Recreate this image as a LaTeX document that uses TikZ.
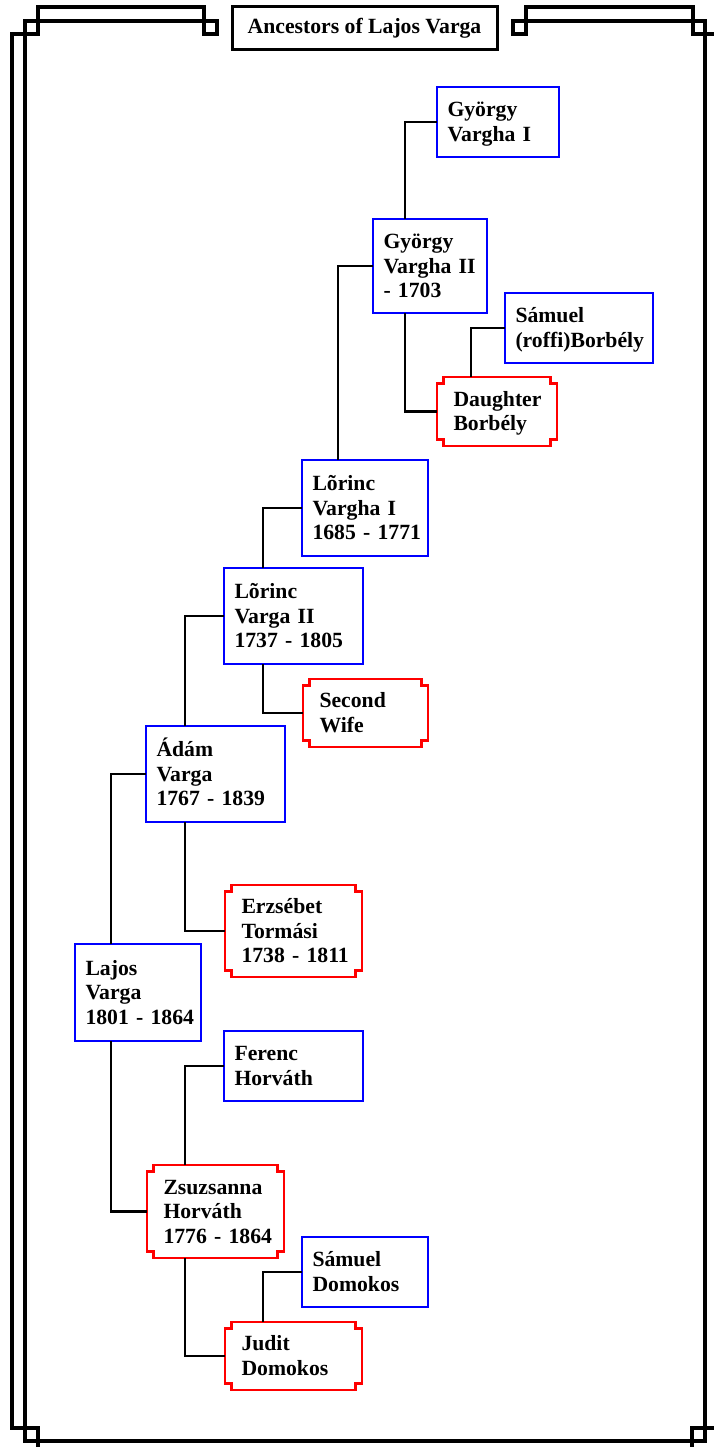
\documentclass[tikz,border=0pt]{standalone}
\usepackage{fontspec}
\setmainfont{Liberation Serif}
\newcommand\boxfont{\fontsize{21.7pt}{24.5pt}\selectfont\bfseries\exhyphenpenalty=10000 \hyphenpenalty=10000 }
\tikzset{
  person/.style={font=\boxfont, align=left, inner ysep=0pt,
    outer sep=0pt, text height=14.4pt, line width=2.5pt},
  male/.style={person, inner xsep=10.5pt, draw=blue},
  female/.style={person, inner xsep=16.5pt},
  l2/.style={text depth=24.5pt},
  l3/.style={text depth=49pt},
  link/.style={line width=2.3pt},
  notch/.style={draw=red, line width=2.5pt},
  frame/.style={line width=3.2pt},
}
\begin{document}
\begin{tikzpicture}[x=1pt,y=-1pt]
    \useasboundingbox (0,0) rectangle (714,1447);
    % double border with notched corners
    \draw[frame] (217,34) -- (204,34) -- (204,7) -- (38,7) -- (38,34) -- (12,34)
        -- (12,1428) -- (38,1428) -- (38,1455) -- (692,1455) -- (692,1428)
        -- (718,1428) -- (718,34) -- (693,34) -- (693,7) -- (526,7) -- (526,34)
        -- (513,34) -- (513,21) -- (705,21) -- (705,1441) -- (25,1441)
        -- (25,21) -- (217,21) -- cycle;
    \node[draw, line width=3pt, font=\boxfont, minimum width=265, minimum height=43,
        inner sep=0pt] (title) at (364.5,28.5) {Ancestors of Lajos Varga};
    % people
    \node[male, l2, text width=101pt, minimum height=70] (gy1) at (498,122) {György\\\mbox{Vargha I}};
    \node[male, l3, text width=93pt, minimum height=94] (gy2) at (430,266) {György\\\mbox{Vargha II}\\\mbox{- 1703}};
    \node[male, l2, text width=127pt, minimum height=70] (sbor) at (579,328) {Sámuel\\(roffi)Borbély};
    \node[female, l2, text width=87pt, minimum height=69] (dbor) at (497,411.5) {Daughter\\Borbély};
    \node[male, l3, text width=105pt, minimum height=96] (lor1) at (365,508) {Lõrinc\\\mbox{Vargha I}\\\mbox{1685 - 1771}};
    \node[male, l3, text width=118pt, minimum height=96] (lor2) at (293.5,616) {Lõrinc\\\mbox{Varga II}\\\mbox{1737 - 1805}};
    \node[female, l2, text width=92pt, minimum height=68] (swife) at (365.5,713) {Second\\Wife};
    \node[male, l3, text width=118pt, minimum height=96] (adam) at (215.5,774) {Ádám\\Varga\\\mbox{1767 - 1839}};
    \node[female, l3, text width=104pt, minimum height=92] (erzs) at (293.5,931) {Erzsébet\\Tormási\\\mbox{1738 - 1811}};
    \node[male, l3, text width=105pt, minimum height=97] (lajos) at (138,992.5) {Lajos\\Varga\\\mbox{1801 - 1864}};
    \node[male, l2, text width=118pt, minimum height=70] (ferenc) at (293.5,1066) {Ferenc\\Horváth};
    \node[female, l3, text width=104pt, minimum height=93] (zsuzs) at (215.5,1211.5) {Zsuzsanna\\Horváth\\\mbox{1776 - 1864}};
    \node[male, l2, text width=105pt, minimum height=70] (sdom) at (365,1272) {Sámuel\\Domokos};
    \node[female, l2, text width=104pt, minimum height=68] (judit) at (293.5,1356) {Judit\\Domokos};
    % notched outline of the women
    \foreach \n in {dbor,swife,erzs,zsuzs,judit}
        \draw[notch] ([yshift=-6.5pt]\n.north west) -- ([xshift=6.5pt,yshift=-6.5pt]\n.north west)
            -- ([xshift=6.5pt]\n.north west) -- ([xshift=-6.5pt]\n.north east)
            -- ([xshift=-6.5pt,yshift=-6.5pt]\n.north east) -- ([yshift=-6.5pt]\n.north east)
            -- ([yshift=6.5pt]\n.south east) -- ([xshift=-6.5pt,yshift=6.5pt]\n.south east)
            -- ([xshift=-6.5pt]\n.south east) -- ([xshift=6.5pt]\n.south west)
            -- ([xshift=6.5pt,yshift=6.5pt]\n.south west) -- ([yshift=6.5pt]\n.south west) -- cycle;
    % father above, mother below
    \draw[link] ([xshift=32pt]gy2.north west) |- (gy1.west);
    \draw[link] ([xshift=32pt]gy2.south west) |- (dbor.west);
    \draw[link] ([xshift=34pt]dbor.north west) |- (sbor.west);
    \draw[link] ([xshift=36pt]lor1.north west) |- (gy2.west);
    \draw[link] ([xshift=39pt]lor2.north west) |- (lor1.west);
    \draw[link] ([xshift=39pt]lor2.south west) |- (swife.west);
    \draw[link] ([xshift=39pt]adam.north west) |- (lor2.west);
    \draw[link] ([xshift=39pt]adam.south west) |- (erzs.west);
    \draw[link] ([xshift=36pt]lajos.north west) |- (adam.west);
    \draw[link] ([xshift=36pt]lajos.south west) |- (zsuzs.west);
    \draw[link] ([xshift=38pt]zsuzs.north west) |- (ferenc.west);
    \draw[link] ([xshift=38pt]zsuzs.south west) |- (judit.west);
    \draw[link] ([xshift=38pt]judit.north west) |- (sdom.west);
\end{tikzpicture}
\end{document}
